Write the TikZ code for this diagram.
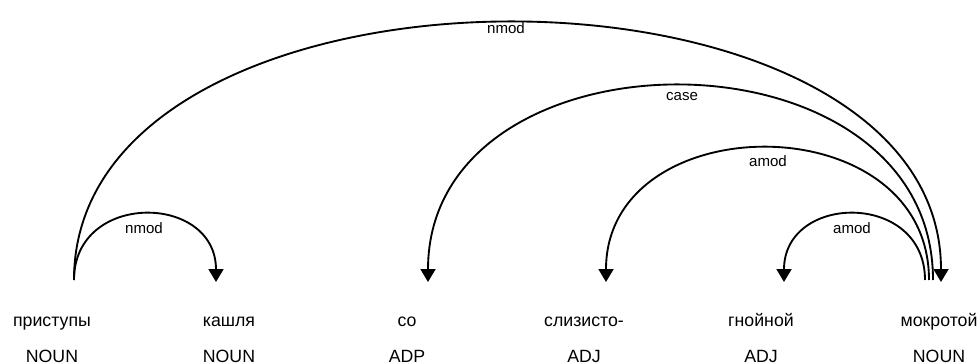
\documentclass[tikz,border=0pt]{standalone}
\usepackage{fontspec}
\setmainfont{Liberation Sans}
\usetikzlibrary{arrows.meta}
\usetikzlibrary{math}

\begin{document}
\begin{tikzpicture}[x=0.75pt,y=-0.75pt,line width=1.4pt,
  word/.style={anchor=base,inner sep=0pt,font=\fontsize{13.3}{16}\selectfont},
  deplabel/.style={anchor=base,inner sep=0pt,font=\fontsize{11.3}{13}\selectfont},
  deparc/.style={-{Triangle[width=11.25pt,length=9.75pt]}}]

  \tikzmath{
    \base  = 280; % where the arcs leave the words
    \tip   = 282; % where the arrow tips stop
    \hsm   = 89;  % control height of the short arcs
    \hamod = 177; % control height of the long amod arc
    \hcase = 260; % control height of the case arc
    \hnmod = 344; % control height of the long nmod arc
  }

  \useasboundingbox (0,0) rectangle (979,364);

  % words and their tags
  \foreach \i/\x/\w/\t in {1/52/приступы/NOUN, 2/229/кашля/NOUN, 3/407/со/ADP,
      4/584/слизисто-/ADJ, 5/761/гнойной/ADJ, 6/939/мокротой/NOUN} {
    \node[word] (w\i) at (\x,326) {\w};
    \node[word] (t\i) at (\x,362) {\t};
  }

  % arc ends above the words
  \coordinate (h1)  at (74,\base);
  \coordinate (h6a) at (925,\base);
  \coordinate (h6b) at (929,\base);
  \coordinate (h6c) at (933,\base);
  \coordinate (d2)  at (216,\tip);
  \coordinate (d3)  at (428,\tip);
  \coordinate (d4)  at (606,\tip);
  \coordinate (d5)  at (784,\tip);
  \coordinate (d6)  at (941,\tip);

  % dependency arcs
  \draw[deparc] (h1) .. controls +(0,-\hsm) and +(0,-\hsm) .. (d2);
  \draw[deparc] (h1) .. controls +(0,-\hnmod) and +(0,-\hnmod) .. (d6);
  \draw[deparc] (h6a) .. controls +(0,-\hsm) and +(0,-\hsm) .. (d5);
  \draw[deparc] (h6b) .. controls +(0,-\hamod) and +(0,-\hamod) .. (d4);
  \draw[deparc] (h6c) .. controls +(0,-\hcase) and +(0,-\hcase) .. (d3);

  % relation labels
  \node[deplabel] (l1) at (144,233) {nmod};
  \node[deplabel] (l2) at (506,33)  {nmod};
  \node[deplabel] (l3) at (682,100) {case};
  \node[deplabel] (l4) at (768,166) {amod};
  \node[deplabel] (l5) at (852,233) {amod};

\end{tikzpicture}
\end{document}
